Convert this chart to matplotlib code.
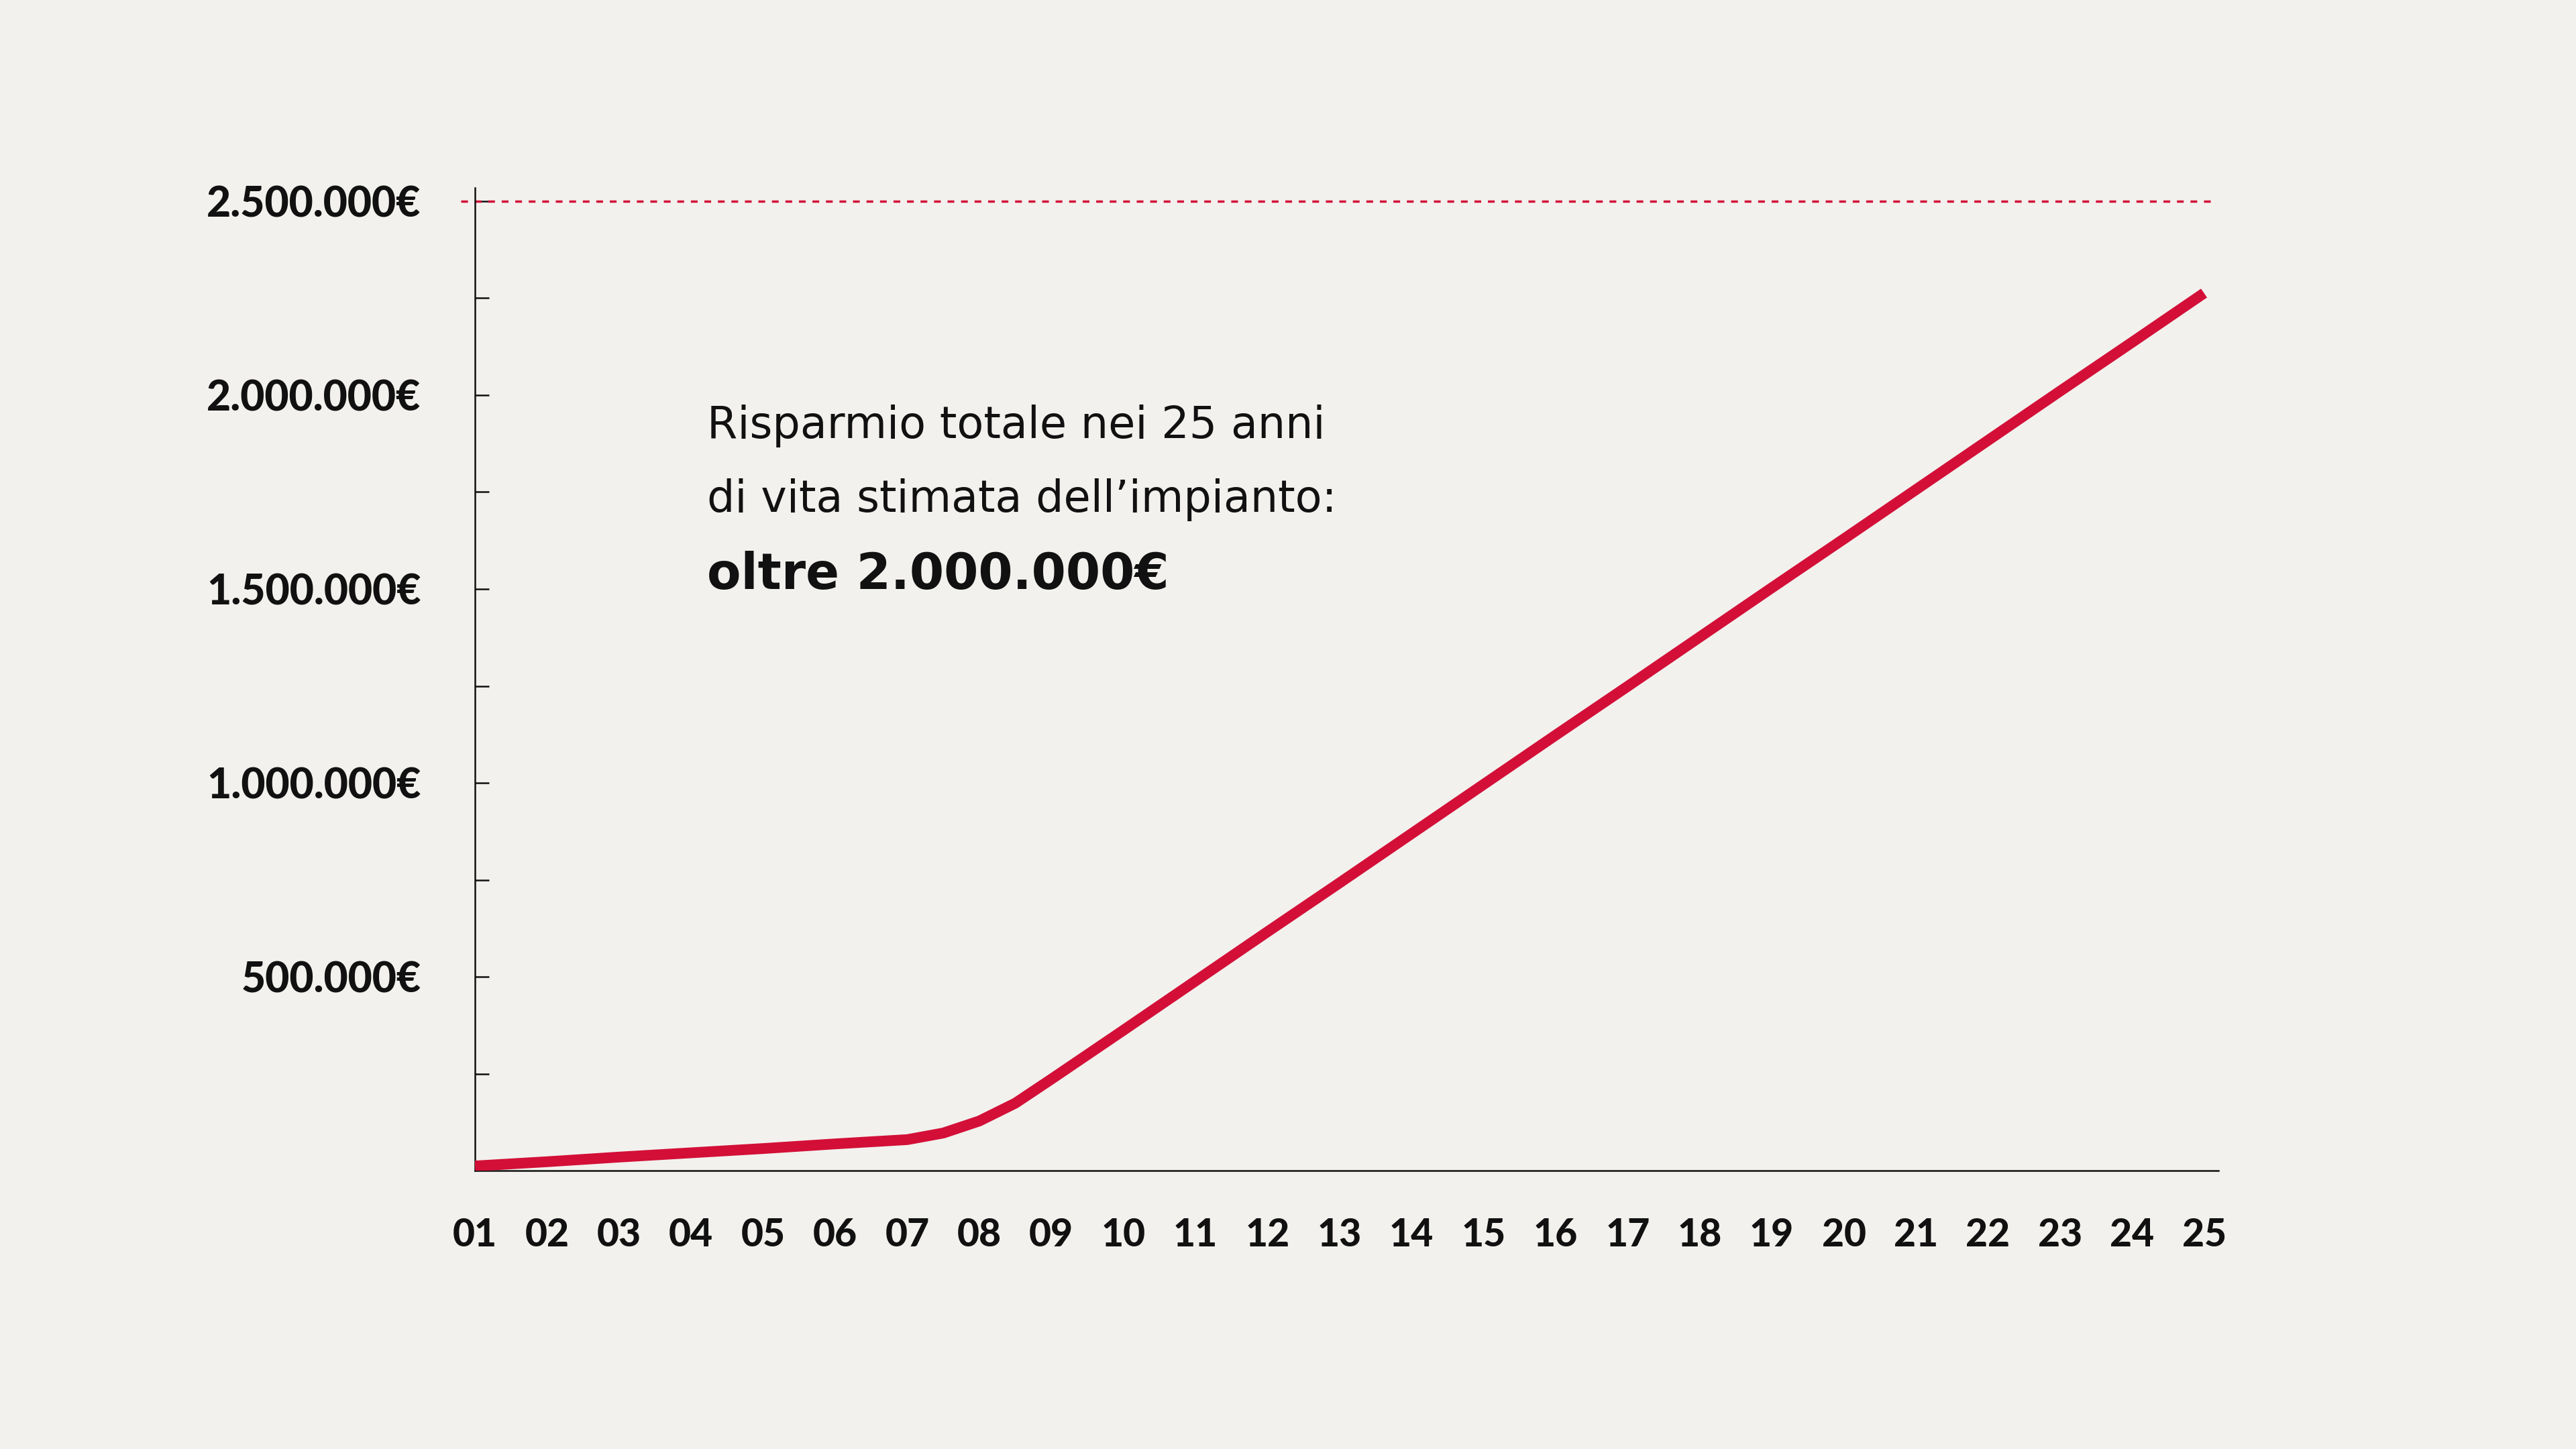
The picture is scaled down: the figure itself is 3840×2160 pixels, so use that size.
import matplotlib.pyplot as plt
from matplotlib import font_manager

# anni e risparmio cumulato (euro);
# nella curva fra l'anno 7 e il 10 ho letto anche i mezzi anni
anni = [1, 2, 3, 4, 5, 6, 7, 7.5, 8, 8.5, 9, 9.5, 10, 11, 12, 13, 14, 15, 16, 17,
        18, 19, 20, 21, 22, 23, 24, 25]
risparmio = [12000, 23000, 35000, 46000, 57000, 69000, 80000, 97000, 128000, 174000,
             236000, 299000, 362000, 489000, 616000, 742000, 869000, 996000, 1123000,
             1249000, 1376000, 1503000, 1629000, 1756000, 1883000, 2010000, 2136000,
             2263000]

tick_x = list(range(1, 26))
etichette_x = ['%02d' % a for a in tick_x]
tick_y = [500000, 1000000, 1500000, 2000000, 2500000]
etichette_y = ['500.000€', '1.000.000€', '1.500.000€', '2.000.000€', '2.500.000€']
tick_y_minori = [250000, 750000, 1250000, 1750000, 2250000]
tetto = 2500000

sfondo = '#f2f1ed'
rosso = '#d30f38'
nero = '#111111'


# cerco un font molto pesante tra quelli installati
def font_pesante():
    for fam in ['Lato', 'Roboto', 'Open Sans', 'Inter', 'Noto Sans']:
        pesi = [f.weight for f in font_manager.fontManager.ttflist if f.name == fam]
        pesi = [p for p in pesi if isinstance(p, int)]
        if pesi and max(pesi) >= 800:
            return fam, max(pesi)
    return 'Lato', 'bold'


fam_pesante, peso = font_pesante()
plt.rcParams['font.family'] = ['DejaVu Sans']

fig = plt.figure(figsize=(38.4, 21.6), dpi=100, facecolor=sfondo)
ax = fig.add_axes([0.1844, 0.1921, 0.8612 - 0.1844, 0.8704 - 0.1921])
ax.set_facecolor(sfondo)

ax.plot(anni, risparmio, color=rosso, lw=11.5, solid_capstyle='butt',
        solid_joinstyle='round', zorder=3)
ax.axhline(tetto, xmin=-0.008, xmax=0.996, color=rosso, lw=2.5,
           dashes=(2.9, 2.9), clip_on=False, zorder=2)

ax.set_xlim(1, 25.2)
ax.set_ylim(0, 2534600)

for lato in ['top', 'right']:
    ax.spines[lato].set_visible(False)
for lato in ['left', 'bottom']:
    ax.spines[lato].set_color(nero)
    ax.spines[lato].set_linewidth(1.8)

ax.set_xticks(tick_x)
ax.set_xticklabels(etichette_x, fontsize=41, family=[fam_pesante, 'DejaVu Sans'],
                   fontweight=peso, color=nero)
ax.tick_params(axis='x', length=0, pad=50)

ax.set_yticks(tick_y)
ax.set_yticklabels(etichette_y, fontsize=45, family=[fam_pesante, 'DejaVu Sans'],
                   fontweight=peso, color=nero)
ax.set_yticks(tick_y_minori, minor=True)
ax.tick_params(axis='y', which='both', direction='in', length=15, width=1.8,
               color=nero, pad=58)

fig.text(0.2745, 0.6977, 'Risparmio totale nei 25 anni', fontsize=47,
         color=nero, va='baseline', ha='left')
fig.text(0.2745, 0.6468, 'di vita stimata dell\u2019impianto:', fontsize=47,
         color=nero, va='baseline', ha='left')
fig.text(0.2745, 0.5935, 'oltre 2.000.000€', fontsize=53, fontweight='bold',
         color=nero, va='baseline', ha='left')

fig.savefig('out.png', dpi=100, facecolor=sfondo)
